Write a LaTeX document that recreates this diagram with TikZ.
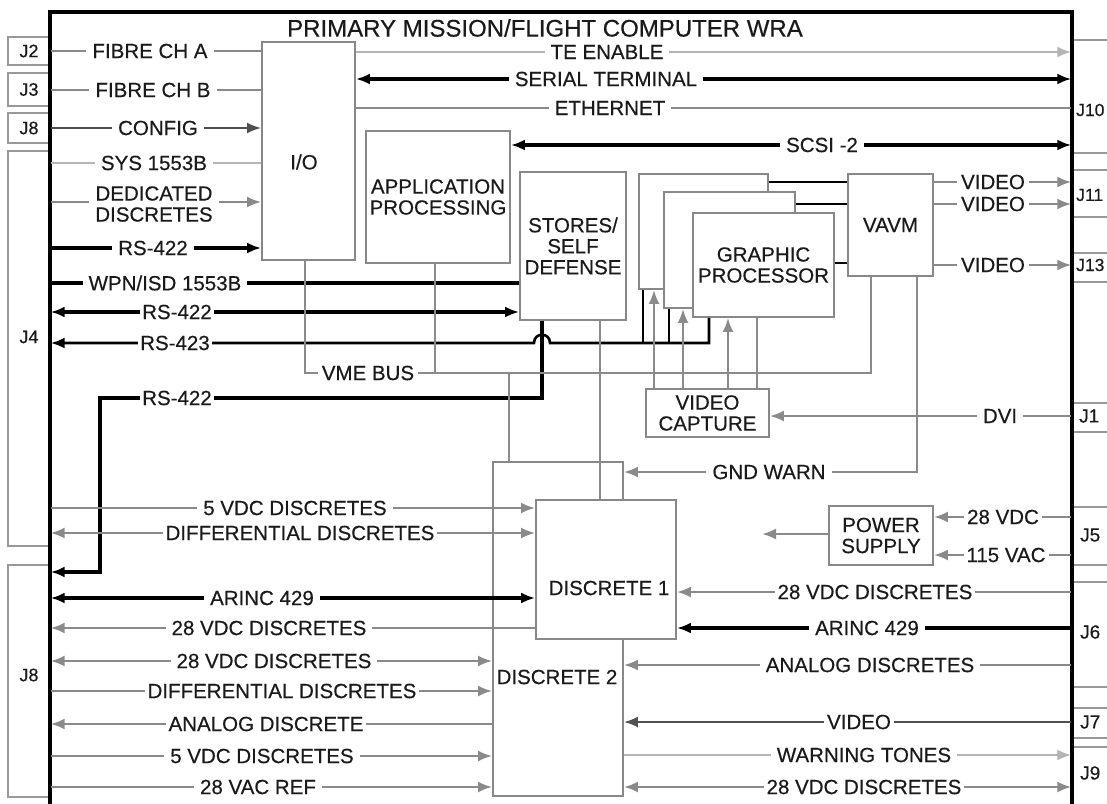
\documentclass[tikz,border=0pt]{standalone}
\usepackage{fontspec}
\setmainfont{Liberation Sans}[FakeBold=0.4]
\usetikzlibrary{arrows.meta,calc}
\definecolor{txt}{HTML}{1A1A1A}
\definecolor{midg}{HTML}{8A8A8A}
\definecolor{darkg}{HTML}{505050}
\definecolor{lightg}{HTML}{B5B5B5}
\definecolor{boxg}{HTML}{888888}
\definecolor{cong}{HTML}{999999}
\begin{document}
\begin{tikzpicture}[x=1pt,y=-1pt,
  >={Latex[length=14pt,width=11pt]},
  lab/.style={fill=white,inner xsep=6pt,inner ysep=0pt,text=txt,font=\fontsize{20.5}{21}\selectfont,align=center},
  btxt/.style={inner sep=0pt,text=txt,font=\fontsize{20.5}{21}\selectfont,align=center},
  box/.style={draw=boxg,line width=1.8pt,fill=white,inner sep=0pt,text=txt,font=\fontsize{20.5}{21}\selectfont,align=center},
  jbox/.style={draw=cong,line width=1.4pt,inner sep=0pt,text=txt,font=\fontsize{18}{19}\selectfont},
  jlab/.style={inner sep=0pt,text=txt,font=\fontsize{18}{19}\selectfont},
  jrlab/.style={inner sep=0pt,text=txt,font=\fontsize{19}{20}\selectfont,anchor=west},
  jrsm/.style={inner sep=0pt,text=txt,font=\fontsize{17.5}{19}\selectfont,anchor=west},
  blk/.style={draw=black,line width=3.2pt},
  blkm/.style={draw=black,line width=2.6pt},
  gry/.style={draw=midg,line width=2.4pt},
  dgry/.style={draw=darkg,line width=2.4pt},
  lgry/.style={draw=lightg,line width=2.4pt}]

\useasboundingbox (0,0) rectangle (1107,803);
\fill[white] (0,0) rectangle (1107,803);

% ---------- connectors, left ----------
\node[jbox,minimum width=42,minimum height=28] (j2) at (29,51) {J2};
\node[jbox,minimum width=42,minimum height=33] (j3) at (29,89.5) {J3};
\node[jbox,minimum width=42,minimum height=30] (j8a) at (29,128) {J8};
\node[jbox,minimum width=42,minimum height=395] (j4) at (29,348.5) {};
\node[jlab] at (29,337) {J4};
\node[jbox,minimum width=42,minimum height=232] (j8b) at (29,681) {};
\node[jlab] at (29,675) {J8};

% ---------- connectors, right ----------
\node[jbox,minimum width=48,minimum height=113] (j10) at (1096,96.5) {};
\node[jrsm] at (1076,110) {J10};
\node[jbox,minimum width=48,minimum height=47] (j11) at (1096,193.5) {};
\node[jrsm] at (1076,195) {J11};
\node[jbox,minimum width=48,minimum height=29] (j13) at (1096,267.5) {};
\node[jrsm] at (1076,265) {J13};
\node[jbox,minimum width=48,minimum height=29] (j1) at (1096,417.5) {};
\node[jrlab] at (1079,416) {J1};
\node[jbox,minimum width=48,minimum height=58] (j5) at (1096,536) {};
\node[jrlab] at (1080,535) {J5};
\node[jbox,minimum width=48,minimum height=105] (j6) at (1096,634.5) {};
\node[jrlab] at (1080,632) {J6};
\node[jbox,minimum width=48,minimum height=30] (j7) at (1096,723) {};
\node[jrlab] at (1080,722) {J7};
\node[jbox,minimum width=48,minimum height=68] (j9) at (1096,781) {};
\node[jrlab] at (1080,773) {J9};

% ---------- outer frame ----------
\draw[line width=3.2pt] (50,12) rectangle (1072,810);
\node[inner sep=0pt,text=txt,font=\fontsize{24}{26}\selectfont] (title) at (545,28) {PRIMARY MISSION/FLIGHT COMPUTER WRA};

% ---------- blocks ----------
\node[box,minimum width=93,minimum height=218] (io) at (308.5,151) {};
\node[btxt] at (304,162) {I/O};
\node[box,minimum width=144,minimum height=132] (app) at (438,197) {APPLICATION\\PROCESSING};
\node[box,minimum width=106,minimum height=148] (sto) at (573,246) {STORES/\\SELF\\DEFENSE};
\node[box,minimum width=129,minimum height=115] (gpa) at (703.5,231.5) {};
\node[box,minimum width=131,minimum height=116] (gpb) at (729.5,250) {};
\node[box,minimum width=141,minimum height=104] (gpc) at (763.5,265) {GRAPHIC\\PROCESSOR};
\node[box,minimum width=85,minimum height=102] (vavm) at (890.5,225) {VAVM};
\node[box,minimum width=123,minimum height=48] (vcap) at (707.5,413) {VIDEO\\CAPTURE};
\node[box,minimum width=130,minimum height=334] (d2) at (558,629) {};
\node[btxt] at (557,677) {DISCRETE 2};
\node[box,minimum width=140,minimum height=139] (d1) at (606,569.5) {};
\node[btxt] at (609,588) {DISCRETE 1};
\node[box,minimum width=104,minimum height=59] (ps) at (881,535.5) {POWER\\SUPPLY};

% ---------- I/O inputs ----------
\draw[gry] (j2.east) -- (io.west |- j2.east);
\draw[gry] (j3.east |- 0,90) -- (io.west |- 0,90);
\draw[dgry,->] (j8a.east) -- (io.west |- j8a.east);
\draw[lgry] (j4.east |- 0,163) -- (io.west |- 0,163);
\draw[gry,->] (j4.east |- 0,202) -- (io.west |- 0,202);
\draw[blk,->] (j4.east |- 0,248) -- (io.west |- 0,248);

% ---------- J10 bus ----------
\draw[lgry,->] (io.east |- 0,52) -- (j10.west |- 0,52);
\draw[blk,<->] (io.east |- 0,79) -- (j10.west |- 0,79);
\draw[gry] (io.east |- 0,108) -- (j10.west |- 0,108);
\draw[blk,<->] (app.east |- 0,145) -- (j10.west |- 0,145);

% ---------- graphic processors to VAVM ----------
\draw[blkm] (gpa.east |- 0,182) -- (vavm.west |- 0,182);
\draw[blkm] (gpb.east |- 0,204) -- (vavm.west |- 0,204);
\draw[blkm] (gpc.east |- 0,263) -- (vavm.west |- 0,263);
\draw[gry,->] (vavm.east |- 0,182) -- (j11.west |- 0,182);
\draw[gry,->] (vavm.east |- 0,204) -- (j11.west |- 0,204);
\draw[gry,->] (vavm.east |- 0,265) -- (j13.west |- 0,265);

% ---------- J4 ----------
\draw[blk] (j4.east |- 0,283) -- (sto.west |- 0,283);
\draw[blk,<->] (j4.east |- 0,312) -- (sto.west |- 0,312);
\draw[blkm,->] (gpc.south -| 709,0) -- (709,343) -- (550,343)
   .. controls (550,332) and (534,332) .. (534,343) -- (j4.east |- 0,343);
\draw[blkm] (gpa.south -| 643,0) -- (643,343);
\draw[blkm] (gpb.south -| 669,0) -- (669,343);
\draw[blk,->] (sto.south -| 542,0) -- (542,398) -- (100,398) -- (100,572) -- (j8b.east |- 0,572);

% ---------- VME bus ----------
\draw[gry] (io.south -| 305,0) -- (305,373) -- (871,373) -- (vavm.south -| 871,0);
\draw[gry] (app.south -| 435,0) -- (435,373);
\draw[gry] (d2.north -| 509,0) -- (509,373);
\draw[gry] (sto.south -| 600,0) -- (d1.north -| 600,0);
\draw[gry] (gpc.south -| 757,0) -- (vcap.north -| 757,0);

% ---------- video capture ----------
\draw[gry,->] (vcap.north -| 654,0) -- (gpa.south -| 654,0);
\draw[gry,->] (vcap.north -| 683,0) -- (gpb.south -| 683,0);
\draw[gry,->] (vcap.north -| 728,0) -- (gpc.south -| 728,0);
\draw[gry,->] (j1.west |- 0,416) -- (vcap.east |- 0,416);
\draw[gry,->] (vavm.south -| 917,0) -- (917,472) -- (d2.east |- 0,472);

% ---------- power ----------
\coordinate (psout) at (762,534);
\draw[gry,->] (j5.west |- 0,517) -- (ps.east |- 0,517);
\draw[gry,->] (j5.west |- 0,555) -- (ps.east |- 0,555);
\draw[gry,->] (ps.west |- 0,534) -- (psout);

% ---------- discretes, left ----------
\draw[gry,->] (j4.east |- 0,508) -- (d1.west |- 0,508);
\draw[gry,<->] (j4.east |- 0,533) -- (d1.west |- 0,533);
\draw[blk,<->] (j8b.east |- 0,598) -- (d1.west |- 0,598);
\draw[gry,<-] (j8b.east |- 0,628) -- (d1.west |- 0,628);
\draw[gry,<->] (j8b.east |- 0,661) -- (d2.west |- 0,661);
\draw[gry,->] (j8b.east |- 0,691) -- (d2.west |- 0,691);
\draw[gry,<-] (j8b.east |- 0,724) -- (d2.west |- 0,724);
\draw[gry,->] (j8b.east |- 0,756) -- (d2.west |- 0,756);
\draw[gry,->] (j8b.east |- 0,787) -- (d2.west |- 0,787);

% ---------- discretes, right ----------
\draw[gry,->] (j6.west |- 0,592) -- (d1.east |- 0,592);
\draw[blk,->] (j6.west |- 0,628) -- (d1.east |- 0,628);
\draw[gry,->] (j6.west |- 0,665) -- (d2.east |- 0,665);
\draw[dgry,->] (j7.west |- 0,722) -- (d2.east |- 0,722);
\draw[lgry,->] (d2.east |- 0,755) -- (j9.west |- 0,755);
\draw[gry,<->] (d2.east |- 0,787) -- (j9.west |- 0,787);

% ---------- labels ----------
\node[lab] at (150,51) {FIBRE CH A};
\node[lab] at (153,90) {FIBRE CH B};
\node[lab] at (158,128) {CONFIG};
\node[lab] at (154,163) {SYS 1553B};
\node[lab] at (154,204) {DEDICATED\\DISCRETES};
\node[lab] at (153,248) {RS-422};
\node[lab] at (607,52) {TE ENABLE};
\node[lab] at (606,79) {SERIAL TERMINAL};
\node[lab] at (610,108) {ETHERNET};
\node[lab] at (822,145) {SCSI -2};
\node[lab,inner xsep=4pt] at (993,182) {VIDEO};
\node[lab,inner xsep=4pt] at (993,204) {VIDEO};
\node[lab,inner xsep=4pt] at (993,265) {VIDEO};
\node[lab] at (165,283) {WPN/ISD 1553B};
\node[lab,inner xsep=2pt] at (177,312) {RS-422};
\node[lab,inner xsep=2pt] at (175,343) {RS-423};
\node[lab,inner xsep=2pt] at (177,398) {RS-422};
\node[lab,inner xsep=4pt] at (368,373) {VME BUS};
\node[lab] at (1000,416) {DVI};
\node[lab] at (769,472) {GND WARN};
\node[lab,inner xsep=3pt] at (1003,517) {28 VDC};
\node[lab,inner xsep=3pt] at (1006,555) {115 VAC};
\node[lab] at (295,508) {5 VDC DISCRETES};
\node[lab,inner xsep=3pt] at (300,533) {DIFFERENTIAL DISCRETES};
\node[lab] at (262,598) {ARINC 429};
\node[lab] at (269,628) {28 VDC DISCRETES};
\node[lab] at (274,661) {28 VDC DISCRETES};
\node[lab,inner xsep=3pt] at (282,691) {DIFFERENTIAL DISCRETES};
\node[lab,inner xsep=3pt] at (266,724) {ANALOG DISCRETE};
\node[lab] at (262,756) {5 VDC DISCRETES};
\node[lab] at (258,787) {28 VAC REF};
\node[lab,inner xsep=3pt] at (875,592) {28 VDC DISCRETES};
\node[lab] at (867,628) {ARINC 429};
\node[lab] at (870,665) {ANALOG DISCRETES};
\node[lab,inner xsep=3pt] at (859,722) {VIDEO};
\node[lab] at (864,755) {WARNING TONES};
\node[lab,inner xsep=3pt] at (864,787) {28 VDC DISCRETES};
\end{tikzpicture}
\end{document}
